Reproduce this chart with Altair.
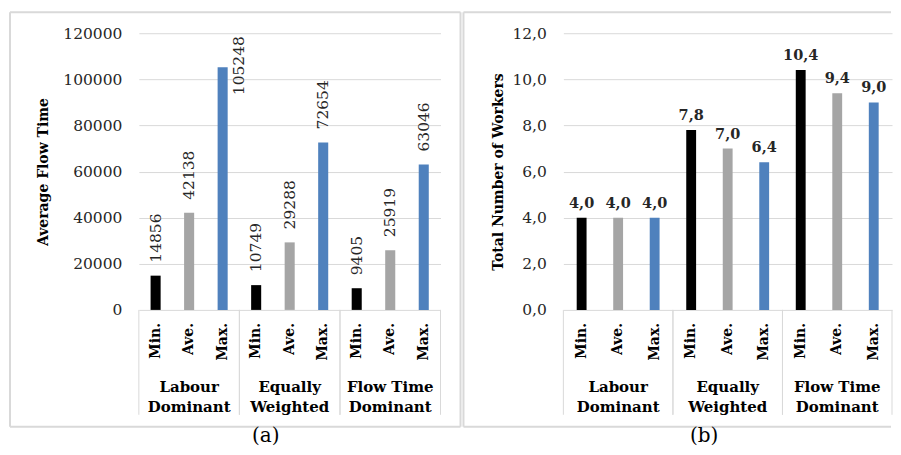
import altair as alt
import pandas as pd

groups = ["Labour\nDominant", "Equally\nWeighted", "Flow Time\nDominant"]
stats = ["Min.", "Ave.", "Max."]
flow_time = [14856, 42138, 105248, 10749, 29288, 72654, 9405, 25919, 63046]
workers = [4.0, 4.0, 4.0, 7.8, 7.0, 6.4, 10.4, 9.4, 9.0]
bar_colors = ["#000000", "#a5a5a5", "#4f81bd"]
flow_ticks = [0, 20000, 40000, 60000, 80000, 100000, 120000]
worker_ticks = [0, 2, 4, 6, 8, 10, 12]

SERIF = "DejaVu Serif"
H = 277
GRID = "#d9d9d9"
TXT = "#262626"


def frame(values):
    rows = []
    for i, g in enumerate(groups):
        for j, s in enumerate(stats):
            rows.append({"group": g, "stat": s, "value": values[i * 3 + j]})
    return pd.DataFrame(rows)


def panel(values, W, ymax, ticks, title, title_x, label_expr, pad, left, right,
          closed, caption, cap_x, kind):
    df = frame(values)
    gdf = pd.DataFrame({"group": groups})
    xenc = alt.X("group:N", sort=groups, axis=None,
                 scale=alt.Scale(paddingInner=0, paddingOuter=0))
    xoff = alt.XOffset("stat:N", sort=stats,
                       scale=alt.Scale(paddingInner=pad, paddingOuter=pad / 2))
    yenc = alt.Y(
        "value:Q",
        scale=alt.Scale(domain=[0, ymax]),
        axis=alt.Axis(values=ticks, grid=True, gridColor=GRID, gridWidth=1,
                      domain=False, ticks=False, labelPadding=17,
                      labelFont=SERIF, labelFontSize=15.5, labelColor=TXT,
                      labelExpr=label_expr, title=title, titleFont=SERIF,
                      titleFontSize=14, titleFontWeight="bold",
                      titleColor="#000000", titleX=title_x,
                      titleBaseline="middle", titleAngle=270),
    )
    base = alt.Chart(df).encode(x=xenc, xOffset=xoff)
    bars = base.mark_bar().encode(
        y=yenc,
        color=alt.Color("stat:N", sort=stats,
                        scale=alt.Scale(domain=stats, range=bar_colors),
                        legend=None),
    )
    layers = [bars]
    if kind == "a":
        lab = base.transform_calculate(lbl="format(datum.value, 'd')")
        normal = lab.transform_filter(alt.datum.value <= ymax * 0.75).mark_text(
            angle=270, align="left", baseline="middle", dx=13,
            font=SERIF, fontSize=15.5, color=TXT,
        ).encode(y=alt.Y("value:Q"), text="lbl:N")
        over = lab.transform_filter(alt.datum.value > ymax * 0.75).mark_text(
            angle=270, align="left", baseline="middle", dx=-28, dy=16,
            font=SERIF, fontSize=15.5, color=TXT,
        ).encode(y=alt.Y("value:Q"), text="lbl:N")
        layers += [normal, over]
    else:
        lab = base.transform_calculate(
            lbl="replace(format(datum.value, '.1f'), '.', ',')")
        lbls = lab.mark_text(
            align="center", baseline="alphabetic", dy=-10,
            font=SERIF, fontSize=14.5, fontWeight="bold", color=TXT,
        ).encode(y=alt.Y("value:Q"), text="lbl:N")
        layers.append(lbls)
    stat_text = base.mark_text(
        angle=270, align="right", baseline="middle", font=SERIF,
        fontSize=14, fontWeight="bold", color="#000000",
    ).encode(y=alt.value(H + 13), text="stat:N")
    gbase = alt.Chart(gdf)
    group_text = gbase.mark_text(
        align="center", baseline="alphabetic", lineBreak="\n", lineHeight=20,
        font=SERIF, fontSize=15, fontWeight="bold", color="#000000",
    ).encode(x=xenc, y=alt.value(H + 82), text="group:N")
    sep0 = gbase.mark_rule(color=GRID, strokeWidth=1).encode(
        x=alt.X("group:N", sort=groups, axis=None, bandPosition=0),
        y=alt.value(H), y2=alt.value(H + 105))
    sep1 = gbase.mark_rule(color=GRID, strokeWidth=1).encode(
        x=alt.X("group:N", sort=groups, axis=None, bandPosition=1),
        y=alt.value(H), y2=alt.value(H + 105))
    one = alt.Chart(pd.DataFrame({"caption": [caption]}))
    frame_rule = dict(color=GRID, strokeWidth=2)
    top = one.mark_rule(**frame_rule).encode(
        x=alt.value(left), x2=alt.value(right), y=alt.value(-21))
    bottom = one.mark_rule(**frame_rule).encode(
        x=alt.value(left), x2=alt.value(right), y=alt.value(394))
    lside = one.mark_rule(**frame_rule).encode(
        x=alt.value(left), y=alt.value(-21), y2=alt.value(394))
    layers += [stat_text, group_text, sep0, sep1, top, bottom, lside]
    if closed:
        rside = one.mark_rule(**frame_rule).encode(
            x=alt.value(right), y=alt.value(-21), y2=alt.value(394))
        layers.append(rside)
    cap = one.mark_text(align="center", baseline="alphabetic", font=SERIF,
                        fontSize=20, color="#000000").encode(
        x=alt.value(cap_x), y=alt.value(H + 132), text="caption:N")
    layers.append(cap)
    return alt.layer(*layers).properties(width=W, height=H)


pa = panel(flow_time, 302, 120000, flow_ticks, "Average Flow Time", -95,
           "format(datum.value, 'd')", 0.7, -129, 322, True, "(a)", 127, "a")
pb = panel(workers, 329, 12, worker_ticks, "Total Number of Workers", -65,
           "replace(format(datum.value, '.1f'), '.', ',')", 0.73, -100, 328,
           False, "(b)", 141, "b")

chart = alt.hconcat(pa, pb, spacing=1).resolve_scale(
    x="independent", y="independent", xOffset="independent"
).properties(
    padding={"left": 1, "top": 3, "right": 0, "bottom": 0}
).configure_view(strokeWidth=0)

chart.save("out.html", embed_options={"renderer": "svg", "actions": False})
